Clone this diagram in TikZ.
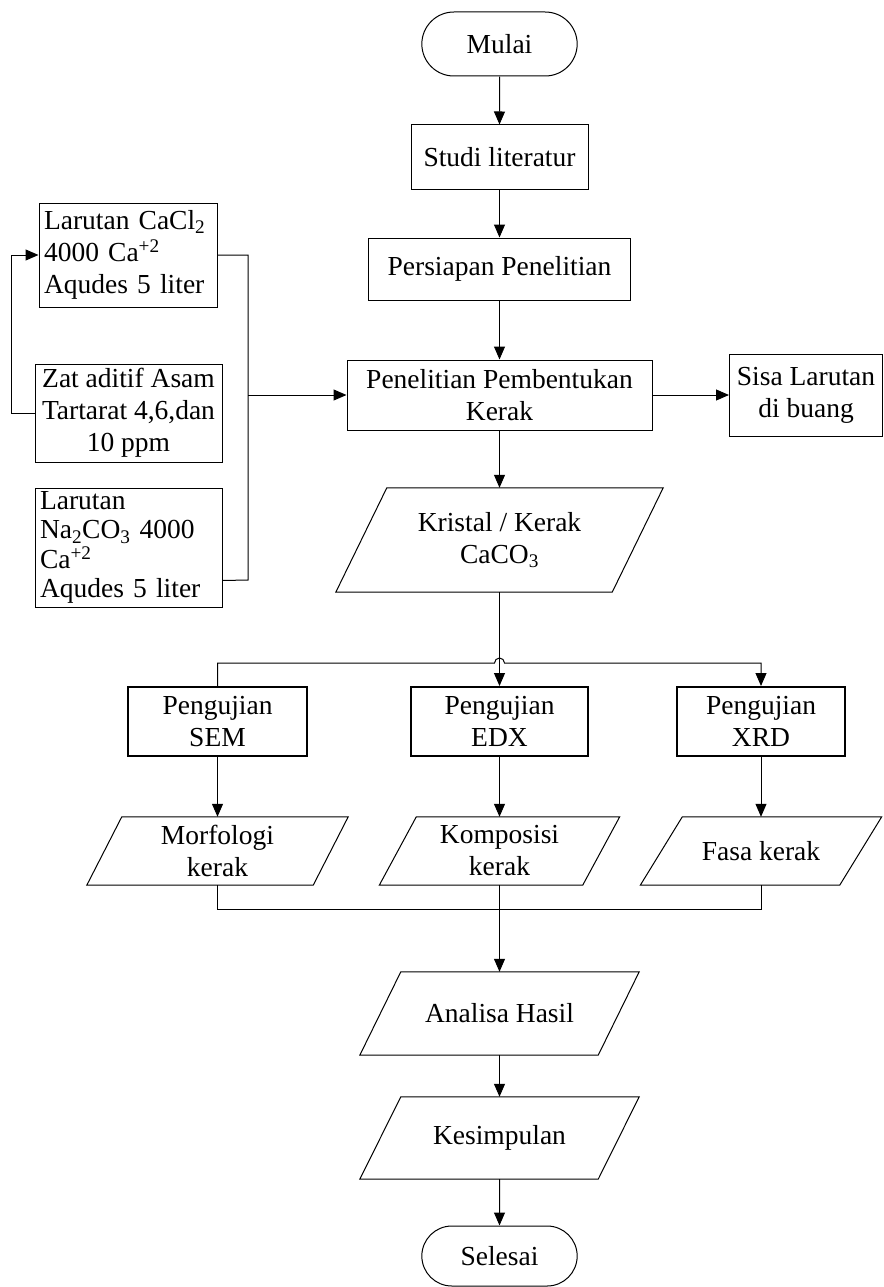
\documentclass[tikz,border=0pt]{standalone}
\usepackage{fontspec}
\setmainfont{Liberation Serif}
\usetikzlibrary{arrows.meta,shapes.misc}

\tikzset{
  garis/.style={line width=1pt},
  panah/.style={garis,-{Triangle[length=13pt,width=11pt]}},
  proses/.style={draw,garis,rectangle,align=center,inner sep=4pt},
  uji/.style={proses,line width=2pt,minimum height=69pt},
  terminal/.style={draw,garis,rounded rectangle,minimum width=162pt,minimum height=64pt},
  data/.style={rectangle,align=center,inner sep=2pt,
    append after command={\pgfextra{\draw[garis] ([xshift=#1]\tikzlastnode.north west)
      -- (\tikzlastnode.north east) -- ([xshift=-#1]\tikzlastnode.south east)
      -- (\tikzlastnode.south west) -- cycle;}}},
  bahan/.style={draw,garis,rectangle,align=left,inner sep=5pt},
}

\begin{document}
\begin{tikzpicture}[x=1pt,y=-1pt,font=\fontsize{27.5}{32}\selectfont]
  \useasboundingbox (0,0) rectangle (883,1287);

  % Kolom utama
  \node[terminal] (mulai) at (499.5,44) {Mulai};
  \node[proses,minimum width=177pt,minimum height=64pt] (studi) at (499.5,157) {Studi literatur};
  \node[proses,minimum width=262pt,minimum height=62pt] (persiapan) at (499.5,269) {Persiapan Penelitian};
  \node[proses,minimum width=305pt,minimum height=70pt] (penelitian) at (499.5,395) {Penelitian Pembentukan\\Kerak};
  \node[proses,minimum width=153pt,minimum height=82pt] (sisa) at (806,395) {Sisa Larutan\\di buang};
  \node[data=51pt,minimum width=327pt,minimum height=104pt] (kristal) at (499.5,540) {Kristal / Kerak\\CaCO\textsubscript{3}};

  % Bahan
  \node[bahan,text width=168pt,minimum height=104pt] (cacl) at (128,255)
    {Larutan CaCl\textsubscript{2}\\4000 Ca\textsuperscript{+2}\\Aqudes 5 liter};
  \node[proses,minimum width=187pt,minimum height=98pt,inner sep=2pt] (zat) at (128.5,413)
    {Zat aditif Asam\\Tartarat 4,6,dan\\10 ppm};
  \node[bahan,text width=177pt,inner ysep=0pt,minimum height=119pt,
    font=\fontsize{27.5}{29.5}\selectfont] (naco) at (128.5,547.5)
    {Larutan\\Na\textsubscript{2}CO\textsubscript{3} 4000\\Ca\textsuperscript{+2}\\Aqudes 5 liter};

  % Pengujian
  \node[uji,minimum width=179pt] (sem) at (217.5,721.5) {Pengujian\\SEM};
  \node[uji,minimum width=177pt] (edx) at (499.5,721.5) {Pengujian\\EDX};
  \node[uji,minimum width=168pt] (xrd) at (761,721.5) {Pengujian\\XRD};
  \node[data=35pt,minimum width=261pt,minimum height=68pt] (morf) at (217.5,851) {Morfologi\\kerak};
  \node[data=37pt,minimum width=240pt,minimum height=68pt] (komp) at (499.5,851) {Komposisi\\kerak};
  \node[data=42pt,minimum width=241pt,minimum height=68pt] (fasa) at (761,851) {Fasa kerak};

  % Akhir
  \node[data=41pt,minimum width=279pt,minimum height=83pt] (analisa) at (499.5,1013.5) {Analisa Hasil};
  \node[data=41pt,minimum width=279pt,minimum height=82pt] (kesimpulan) at (499.5,1138) {Kesimpulan};
  \node[terminal,minimum height=60pt] (selesai) at (499.5,1256) {Selesai};

  % Alur utama
  \draw[panah] (mulai) -- (studi);
  \draw[panah] (studi) -- (persiapan);
  \draw[panah] (persiapan) -- (penelitian);
  \draw[panah] (penelitian) -- (sisa);
  \draw[panah] (penelitian) -- (kristal);
  \draw[panah] (kristal) -- (edx);

  % Alur bahan
  \coordinate (bus) at (248,395);
  \draw[panah] (zat.west) -- ++(-23,0) |- (cacl.west);
  \draw[garis] (cacl.east) -| (248,580) -- ([yshift=-33pt]naco.east);
  \draw[panah] (bus) -- (penelitian.west);

  % Cabang pengujian
  \coordinate (lompat) at (499.5,663);
  \draw[panah] (sem.north) |- ([xshift=-5pt]lompat) arc[start angle=180,end angle=0,radius=5pt] -| (xrd.north);
  \draw[panah] (sem) -- (morf);
  \draw[panah] (edx) -- (komp);
  \draw[panah] (xrd) -- (fasa);

  % Gabung hasil
  \coordinate (gabung) at (499.5,909);
  \draw[garis] (morf.south) |- (gabung) -| (fasa.south);
  \draw[panah] (komp) -- (analisa);
  \draw[panah] (analisa) -- (kesimpulan);
  \draw[panah] (kesimpulan) -- (selesai);
\end{tikzpicture}
\end{document}
